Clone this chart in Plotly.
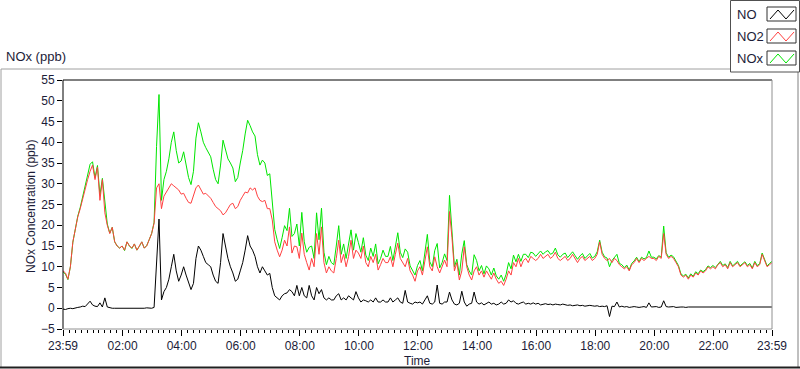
import plotly.graph_objects as go
import pandas as pd

# ---------------- data (5-minute readings from 23:59 to 23:59 next day) ----------------
START = "2000-01-01 23:59"
END = "2000-01-02 23:59"
STEP_MIN = 5

no_ppb = [
    -0.2, -0.3, -0.1, 0, -0.1, 0.1, 0.2, 0.3, 0.5, 0.4, 1.0, 1.7,
    0.8, 0.5, 0.4, 1.3, 0.3, 2.5, 0.3, 0.1, 0, 0, 0, 0,
    0, -0.1, 0, 0, -0.1, 0, 0, -0.1, 0, 0, 0.1, 0,
    0, 0.2, 10, 21.5, 2, 4, 5, 7, 10, 13, 9, 6.5,
    8, 10, 8, 6, 4.5, 6, 12, 15, 14, 12.5, 11, 10.5,
    10, 8, 6.5, 6, 11, 18, 15, 12, 10, 8.5, 6.5, 7,
    9, 11, 14, 17.5, 15, 14, 12.5, 10, 8.5, 10, 9, 8,
    8.4, 5, 3, 2.5, 2, 3, 3.5, 3.7, 4.5, 4, 3, 5.5,
    3, 5, 3, 2.5, 5.5, 3, 2, 5, 3.5, 4.5, 2.5, 2,
    2.5, 2, 2, 3, 3.5, 2, 2.5, 2, 3, 2.5, 2, 4,
    2.5, 1.5, 2, 1.8, 1.5, 2, 1.5, 2.5, 1.5, 1.5, 2, 1.5,
    1.5, 2.5, 1.5, 2, 2.5, 1.5, 1.2, 4.3, 1.5, 1.2, 1, 1.5,
    1.3, 1.5, 1, 2, 3, 1.2, 1, 1.5, 5.6, 1.2, 1, 1.5,
    1.5, 3.9, 2, 1, 0.8, 1.2, 4.1, 1.5, 0.5, 1, 1.2, 3.9,
    1.5, 1, 1.3, 0.8, 1.2, 1.5, 1, 1.2, 0.8, 1, 1.5, 1,
    1.2, 2, 1.5, 1.8, 1.2, 1, 1.3, 1.5, 1, 1.2, 1, 1.3,
    1, 1.2, 0.8, 1, 1.1, 0.9, 1, 0.8, 1, 0.9, 0.8, 1,
    0.8, 0.7, 0.8, 0.6, 0.7, 0.8, 0.6, 0.7, 0.5, 0.6, 0.7, 0.6,
    0.5, 0.6, 0.4, 0.5, 0.4, 0.6, -2, 0.5, 0.4, 1.5, 0.3, 0.5,
    0.3, 0.4, 0.2, 0.3, 0.4, 0.3, 0.2, 0.3, 0.4, 0.2, 1.3, 0.3,
    0.3, 0.4, 0.2, 0.3, 1.8, 0.4, 0.3, 0.3, 0.4, 0.2, 0.3, 0.3,
    0.3, 0.2, 0.3, 0.3, 0.2, 0.3, 0.3, 0.2, 0.3, 0.3, 0.2, 0.3,
    0.3, 0.3, 0.2, 0.3, 0.3, 0.2, 0.3, 0.3, 0.2, 0.3, 0.3, 0.2,
    0.3, 0.2, 0.3, 0.3, 0.2, 0.3, 0.3, 0.2, 0.3, 0.3, 0.2, 0.3, 0.3,
]

no2_ppb = [
    9, 8.5, 7, 10, 16, 19.5, 22, 24, 26.5, 29, 31, 33,
    34.5, 31, 34, 26, 31, 23, 20, 18, 19.5, 16, 15, 14.5,
    15, 14, 16, 15, 14.5, 15.5, 14, 15, 16, 14.5, 15, 16.5,
    18, 20.5, 29, 30, 24, 27, 28, 29, 30, 29.5, 29, 28.5,
    27.5, 27.7, 26.5, 25.5, 25.3, 27, 29, 29.7, 28.5, 27.5, 27.7, 27,
    26.5, 25.5, 24.5, 24, 23.5, 22.5, 23, 24, 25, 25.3, 24, 24.5,
    26, 27, 28, 27.8, 29, 28.5, 29, 27, 26, 25.7, 26, 24,
    24, 21.3, 16, 14, 12.4, 14, 16.4, 15, 19.6, 13.3, 15, 14.8,
    12, 18.1, 13, 11, 9.2, 12, 10, 18, 13, 19.6, 11, 8.5,
    10, 9, 8.5, 12, 16.4, 11, 13, 10, 12.5, 16.4, 12, 14,
    13.3, 12, 15, 11, 10, 12.5, 11, 13, 9.2, 10.5, 12, 11,
    11, 12.4, 10, 13, 15.7, 12, 11, 10, 12, 9, 8, 6.5,
    9, 10, 8, 11, 14.8, 10, 9, 12.4, 10, 8.5, 10, 11.6,
    10, 23.3, 17, 9, 11, 6.8, 9, 14.8, 10, 8, 6.8, 9,
    10, 8, 9, 7.5, 9, 8, 7, 8.5, 7, 6, 6.5, 5.5,
    7, 9, 8, 11, 10, 12, 10, 11.5, 12, 11, 12.5, 12,
    11.5, 12, 13, 12, 12.5, 13, 12, 12.5, 13.5, 12, 11.5, 12,
    12.5, 11.5, 12, 13, 12, 11, 12, 12.5, 11.5, 12, 12.5, 11.5,
    12, 13, 16, 13, 12, 11.5, 12, 11, 12, 11.5, 10.5, 10,
    9.5, 10, 9, 10.5, 11, 12, 11, 12, 11.5, 12, 12.5, 12,
    12, 11.5, 12.5, 12, 18, 13, 12, 12.5, 12, 11, 10, 8,
    7.5, 8, 7, 8, 7.5, 8.5, 8, 9, 8.5, 9, 10, 9.5,
    10, 9.5, 10.5, 11, 10, 10.5, 9.5, 11, 10, 10.5, 11, 10,
    10.5, 11, 10, 10.5, 9.5, 11, 10, 10.5, 13, 11.5, 10, 10.5, 11,
]

nox_ppb = [
    8.8, 8.2, 6.9, 10, 15.9, 19.6, 22.2, 24.3, 27, 29.4, 32, 34.7,
    35.3, 31.5, 34.4, 27.3, 31.3, 25.5, 20.3, 18.1, 19.5, 16, 15, 14.5,
    15, 13.9, 16, 15, 14.4, 15.5, 14, 14.9, 16, 14.5, 15.1, 16.5,
    18, 20.7, 39, 51.5, 26, 31, 33, 36, 40, 42.5, 38, 35,
    35.5, 37.7, 34.5, 31.5, 29.8, 33, 41, 44.7, 42.5, 40, 38.7, 37.5,
    36.5, 33.5, 31, 30, 34.5, 40.5, 38, 36, 35, 33.8, 30.5, 31.5,
    35, 38, 42, 45.3, 44, 42.5, 41.5, 37, 34.5, 35.7, 35, 32,
    32.4, 26.3, 19, 16.5, 14.4, 17, 19.9, 18.7, 24.1, 17.3, 18, 20.3,
    15, 23.1, 16, 13.5, 14.7, 15, 12, 23, 16.5, 24.1, 13.5, 10.5,
    12.5, 11, 10.5, 15, 19.9, 13, 15.5, 12, 15.5, 18.9, 14, 18,
    15.8, 13.5, 17, 12.8, 11.5, 14.5, 12.5, 15.5, 10.7, 12, 14, 12.5,
    12.5, 14.9, 11.5, 15, 18.2, 13.5, 12.2, 14.3, 13.5, 10.2, 9, 8,
    10.3, 11.5, 9, 13, 17.8, 11.2, 10, 13.9, 15.6, 9.7, 11, 13.1,
    11.5, 27.2, 19, 10, 11.8, 8, 13.1, 16.3, 10.5, 9, 8, 12.9,
    11.5, 9, 10.3, 8.3, 10.2, 9.5, 8, 9.7, 7.8, 7, 8, 6.5,
    8.2, 11, 9.5, 12.8, 11.2, 13, 11.3, 13, 13, 12.2, 13.5, 13.3,
    12.5, 13.2, 13.8, 13, 13.6, 13.9, 13, 13.3, 14.5, 12.9, 12.3, 13,
    13.3, 12.2, 12.8, 13.6, 12.7, 11.8, 12.6, 13.2, 12, 12.6, 13.2, 12.1,
    12.5, 13.6, 16.4, 13.5, 12.4, 12.1, 10, 11.5, 12.4, 13, 10.8, 10.5,
    9.8, 10.4, 9.2, 10.8, 11.4, 12.3, 11.2, 12.3, 11.9, 12.2, 13.8, 12.3,
    12.3, 11.9, 12.7, 12.3, 19.8, 13.4, 12.3, 12.8, 12.4, 11.2, 10.3, 8.3,
    7.8, 8.2, 7.3, 8.3, 7.7, 8.8, 8.3, 9.2, 8.8, 9.3, 10.2, 9.8,
    10.3, 9.8, 10.7, 11.3, 10.3, 10.7, 9.8, 11.3, 10.2, 10.8, 11.3, 10.2,
    10.8, 11.2, 10.3, 10.8, 9.7, 11.3, 10.3, 10.7, 13.3, 11.8, 10.2, 10.8, 11.3,
]

x_tick_times = ["2000-01-01 23:59", "2000-01-02 02:00", "2000-01-02 04:00", "2000-01-02 06:00",
                "2000-01-02 08:00", "2000-01-02 10:00", "2000-01-02 12:00", "2000-01-02 14:00",
                "2000-01-02 16:00", "2000-01-02 18:00", "2000-01-02 20:00", "2000-01-02 22:00",
                "2000-01-02 23:59"]
x_tick_labels = ["23:59", "02:00", "04:00", "06:00", "08:00", "10:00", "12:00", "14:00",
                 "16:00", "18:00", "20:00", "22:00", "23:59"]
y_tick_vals = [-5, 0, 5, 10, 15, 20, 25, 30, 35, 40, 45, 50, 55]

series_names = ["NO", "NO2", "NOx"]
series_colors = ["#000000", "#ff4040", "#00e600"]

times = pd.date_range(START, periods=len(no2_ppb), freq=f"{STEP_MIN}min")

# ---------------- layout geometry (pixels) ----------------
W, H = 800, 369
PL, PR, PT, PB = 63, 772, 80, 329
FONT = "Liberation Sans"
TXT = "#1c1c38"


def px(x):
    return (x - PL) / (PR - PL)


def py(y):
    return (PB - y) / (PB - PT)


fig = go.Figure()
for name, vals, col in [("NOx", nox_ppb, series_colors[2]),
                        ("NO2", no2_ppb, series_colors[1]),
                        ("NO", no_ppb, series_colors[0])]:
    fig.add_trace(go.Scatter(x=times, y=vals, mode="lines", name=name,
                             line=dict(color=col, width=1), showlegend=False))

shapes = []
# outer panel frame
shapes.append(dict(type="line", xref="paper", yref="paper", x0=px(1), x1=px(1), y0=py(69), y1=py(368),
                   line=dict(color="#a0a0a0", width=1)))
shapes.append(dict(type="line", xref="paper", yref="paper", x0=px(1), x1=px(730), y0=py(69), y1=py(69),
                   line=dict(color="#a0a0a0", width=1)))
shapes.append(dict(type="line", xref="paper", yref="paper", x0=px(798), x1=px(798), y0=py(72), y1=py(368),
                   line=dict(color="#808080", width=1)))
shapes.append(dict(type="line", xref="paper", yref="paper", x0=px(0), x1=px(800), y0=py(367.5), y1=py(367.5),
                   line=dict(color="#202020", width=2)))
# plot area frame (sunken look)
shapes.append(dict(type="line", xref="paper", yref="paper", x0=0, x1=0, y0=0, y1=1,
                   line=dict(color="#000000", width=1)))
shapes.append(dict(type="line", xref="paper", yref="paper", x0=0, x1=1, y0=1, y1=1,
                   line=dict(color="#000000", width=1)))
shapes.append(dict(type="line", xref="paper", yref="paper", x0=1, x1=1, y0=0, y1=1,
                   line=dict(color="#909090", width=1)))
shapes.append(dict(type="line", xref="paper", yref="paper", x0=0, x1=1, y0=0, y1=0,
                   line=dict(color="#909090", width=1)))
# legend panel
shapes.append(dict(type="rect", xref="paper", yref="paper", x0=px(730.5), x1=px(799.5), y0=py(72), y1=py(0.5),
                   line=dict(color="#505050", width=1), fillcolor="white"))

annotations = []
legend_rows = [14, 36, 58]
for name, col, yc in zip(series_names, series_colors, legend_rows):
    annotations.append(dict(text=name, xref="paper", yref="paper", x=px(735), y=py(yc),
                            xanchor="left", yanchor="middle", showarrow=False,
                            font=dict(family=FONT, size=13, color=TXT)))
    bx0, bx1, by0, by1 = 767, 796, yc - 7, yc + 7
    shapes.append(dict(type="rect", xref="paper", yref="paper", x0=px(bx0), x1=px(bx1), y0=py(by1), y1=py(by0),
                       line=dict(color="#303030", width=1), fillcolor="white"))
    path = "M {} {} L {} {} L {} {} L {} {}".format(
        px(bx0 + 3), py(by1 - 2), px(bx0 + 11), py(by0 + 3),
        px(bx0 + 19), py(by1 - 2), px(bx1 - 2), py(by0 + 3))
    shapes.append(dict(type="path", xref="paper", yref="paper", path=path,
                       line=dict(color=col, width=1)))

annotations.append(dict(text="NOx (ppb)", xref="paper", yref="paper", x=px(4), y=py(57),
                        xanchor="left", yanchor="middle", showarrow=False,
                        font=dict(family=FONT, size=13, color=TXT)))
annotations.append(dict(text="NOx Concentration (ppb)", xref="paper", yref="paper", x=px(31), y=py(207),
                        xanchor="center", yanchor="middle", textangle=-90, showarrow=False,
                        font=dict(family=FONT, size=12, color=TXT)))
annotations.append(dict(text="Time", xref="paper", yref="paper", x=px(417), y=py(361),
                        xanchor="center", yanchor="middle", showarrow=False,
                        font=dict(family=FONT, size=12, color=TXT)))

fig.update_layout(
    width=W, height=H,
    margin=dict(l=PL, r=W - PR, t=PT, b=H - PB, pad=0),
    paper_bgcolor="white", plot_bgcolor="white",
    showlegend=False, hovermode=False,
    shapes=shapes, annotations=annotations,
    xaxis=dict(type="date", range=[START, END], tickmode="array",
               tickvals=x_tick_times, ticktext=x_tick_labels,
               ticks="outside", ticklen=6, tickcolor="black", tickwidth=1,
               showgrid=False, zeroline=False, showline=False, fixedrange=True,
               tickfont=dict(family=FONT, size=12, color=TXT),
               minor=dict(dtick=12 * 60 * 1000, tick0="2000-01-02 00:00", ticks="outside",
                          ticklen=3, tickcolor="black", tickwidth=1, showgrid=False)),
    yaxis=dict(range=[-5, 55], tickmode="array", tickvals=y_tick_vals,
               ticks="outside", ticklen=5, tickcolor="black", tickwidth=1,
               showgrid=False, zeroline=False, showline=False, fixedrange=True,
               tickfont=dict(family=FONT, size=12, color=TXT)),
)

# remove the browser's default page margin so the 800x369 figure fills the window exactly
fig.write_html("out.html", config={"displayModeBar": False},
               post_script="document.body.style.margin='0';document.body.style.overflow='hidden';")
